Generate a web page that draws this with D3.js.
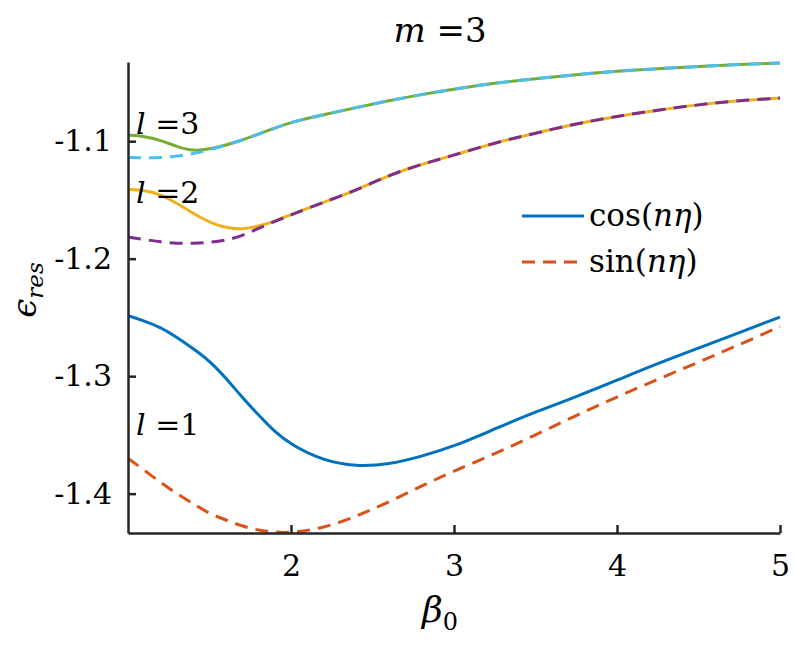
<!DOCTYPE html>
<html>
<head>
<meta charset="utf-8">
<script src="https://cdn.jsdelivr.net/npm/d3@7"></script>
<style>
  body { margin: 0; background: #fff; }
  svg text { font-family: "DejaVu Serif", "Liberation Serif", serif; fill: #000; }
</style>
</head>
<body>
<svg id="chart" width="794" height="650"></svg>
<script>
// beta_0 sample points
const beta = [1, 1.1, 1.2, 1.3, 1.4, 1.5, 1.6, 1.7, 1.8, 1.9, 2.0, 2.2, 2.4, 2.6, 2.8, 3.0, 3.25, 3.5, 3.75, 4.0, 4.25, 4.5, 4.75, 5.0];

// l = 1
const cosL1 = [-1.2485, -1.253, -1.2584, -1.267, -1.2766, -1.2869, -1.3014, -1.318, -1.333, -1.3474, -1.3584, -1.3722, -1.3769, -1.3752, -1.3683, -1.3598, -1.3449, -1.3304, -1.3176, -1.3035, -1.2892, -1.2762, -1.263, -1.2497];
const sinL1 = [-1.370, -1.3799, -1.3907, -1.400, -1.4086, -1.4171, -1.4225, -1.4276, -1.4313, -1.4328, -1.4334, -1.4294, -1.4195, -1.4072, -1.3935, -1.3807, -1.3662, -1.350, -1.3334, -1.3176, -1.3027, -1.2881, -1.2732, -1.2578];
// l = 2
const cosL2 = [-1.141, -1.1418, -1.1452, -1.1529, -1.1614, -1.1691, -1.1738, -1.1751, -1.1725, -1.1683, -1.1623, -1.152, -1.1418, -1.129, -1.1196, -1.1119, -1.1013, -1.0932, -1.0851, -1.0787, -1.0736, -1.0689, -1.0654, -1.0633];
const sinL2 = [-1.1817, -1.1836, -1.1858, -1.187, -1.187, -1.1862, -1.1845, -1.1806, -1.1742, -1.1683, -1.1627, -1.152, -1.1418, -1.129, -1.1196, -1.1119, -1.1013, -1.0932, -1.0851, -1.0787, -1.0736, -1.0689, -1.0654, -1.0633];
// l = 3
const cosL3 = [-1.0949, -1.0957, -1.0991, -1.1047, -1.1085, -1.1068, -1.1034, -1.0991, -1.094, -1.0889, -1.0838, -1.0774, -1.0714, -1.0655, -1.0603, -1.0556, -1.0505, -1.0467, -1.0433, -1.0403, -1.0382, -1.0364, -1.0347, -1.0334];
const sinL3 = [-1.1139, -1.1141, -1.1141, -1.1128, -1.1107, -1.1073, -1.1034, -1.0991, -1.094, -1.0889, -1.0838, -1.0774, -1.0714, -1.0655, -1.0603, -1.0556, -1.0505, -1.0467, -1.0433, -1.0403, -1.0382, -1.0364, -1.0347, -1.0334];

const xTicks = [2, 3, 4, 5];
const yTicks = [-1.4, -1.3, -1.2, -1.1];

const series = [
  { values: cosL1, color: "#0072BD", dash: null },
  { values: sinL1, color: "#D95319", dash: "13,8" },
  { values: cosL2, color: "#EDB120", dash: null },
  { values: sinL2, color: "#7E2F8E", dash: "13,8" },
  { values: cosL3, color: "#77AC30", dash: null },
  { values: sinL3, color: "#4DBEEE", dash: "13,8" }
];

const margin = { left: 128, right: 14, top: 62, bottom: 117 };
const width = 794, height = 650;
const svg = d3.select("#chart");
const serif = "DejaVu Serif";

const x = d3.scaleLinear().domain([1, 5]).range([margin.left, width - margin.right]);
const y = d3.scaleLinear().domain([-1.4335, -1.0326]).range([height - margin.bottom, margin.top]);

const line = d3.line()
  .x((d, i) => x(beta[i]))
  .y(d => y(d))
  .curve(d3.curveBasis);

// curves
svg.append("g").selectAll("path")
  .data(series)
  .enter().append("path")
  .attr("d", d => line(d.values))
  .attr("fill", "none")
  .attr("stroke", d => d.color)
  .attr("stroke-width", 3)
  .attr("stroke-dasharray", d => d.dash);

// axes (ticks pointing inward like matlab)
const xAxis = svg.append("g")
  .attr("transform", `translate(0,${height - margin.bottom})`)
  .call(d3.axisBottom(x).tickValues(xTicks).tickSizeInner(-8).tickSizeOuter(0).tickPadding(22).tickFormat(d3.format("d")));
const yAxis = svg.append("g")
  .attr("transform", `translate(${margin.left},0)`)
  .call(d3.axisLeft(y).tickValues(yTicks).tickSizeInner(-8).tickSizeOuter(0).tickPadding(16).tickFormat(d => d.toFixed(1)));

[xAxis, yAxis].forEach(g => {
  g.attr("font-family", serif);
  g.select(".domain").attr("stroke", "#262626").attr("stroke-width", 2.5);
  g.selectAll(".tick line").attr("stroke", "#262626").attr("stroke-width", 2.5);
  g.selectAll(".tick text").attr("font-family", serif).attr("font-size", 30).attr("fill", "#000");
});

// title
svg.append("text")
  .attr("x", 440).attr("y", 42)
  .attr("text-anchor", "middle")
  .attr("font-family", serif)
  .attr("font-size", 34)
  .html('<tspan font-style="italic">m</tspan> =3');

// axis labels
svg.append("text")
  .attr("x", 440).attr("y", 622)
  .attr("text-anchor", "middle")
  .attr("font-family", serif)
  .attr("font-size", 36)
  .html('<tspan font-style="italic">β</tspan><tspan font-size="24" dy="8">0</tspan>');

svg.append("text")
  .attr("transform", "translate(36,290) rotate(-90)")
  .attr("text-anchor", "middle")
  .attr("font-family", serif)
  .attr("font-size", 34)
  .html('<tspan font-style="italic">ϵ</tspan><tspan font-size="23" font-style="italic" dy="7">res</tspan>');

// l labels
const lLabels = [
  { text: "3", yv: -1.0935 },
  { text: "2", yv: -1.1525 },
  { text: "1", yv: -1.350 }
];
svg.append("g").selectAll("text")
  .data(lLabels)
  .enter().append("text")
  .attr("x", 136)
  .attr("y", d => y(d.yv))
  .attr("font-family", serif)
  .attr("font-size", 30)
  .html(d => `<tspan font-style="italic">l</tspan> =${d.text}`);

// legend
const legend = [
  { label: "cos", color: "#0072BD", dash: null, cy: 216 },
  { label: "sin", color: "#D95319", dash: "13,8", cy: 262 }
];
const lg = svg.append("g");
legend.forEach(d => {
  lg.append("line")
    .attr("x1", 522).attr("x2", 584)
    .attr("y1", d.cy).attr("y2", d.cy)
    .attr("stroke", d.color).attr("stroke-width", 3)
    .attr("stroke-dasharray", d.dash);
  lg.append("text")
    .attr("x", 589).attr("y", d.cy + 10)
    .attr("font-family", serif)
    .attr("font-size", 31)
    .html(`${d.label}(<tspan font-style="italic">nη</tspan>)`);
});
</script>
</body>
</html>
